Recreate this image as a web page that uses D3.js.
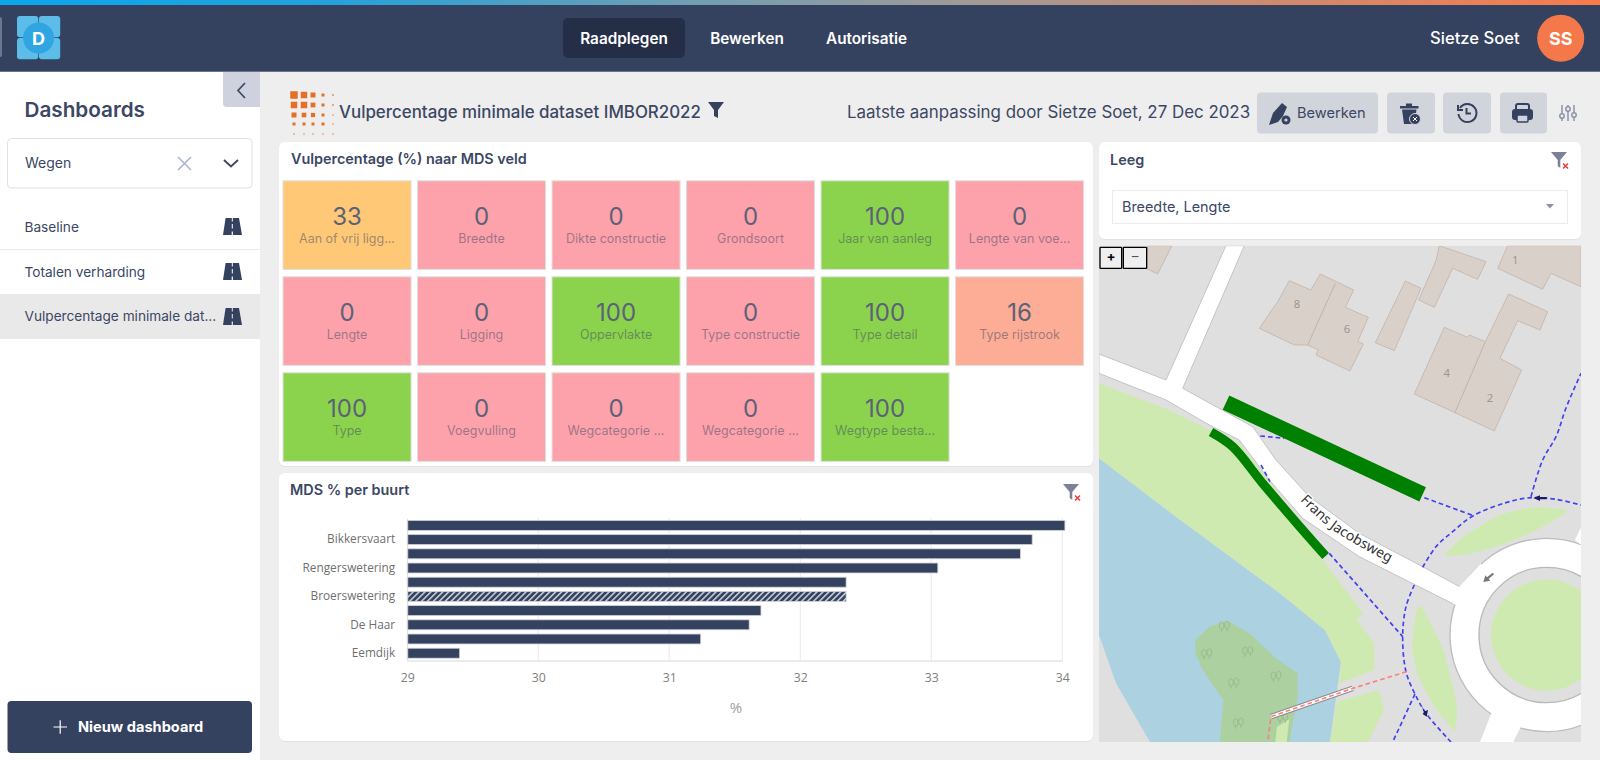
<!DOCTYPE html>
<html lang="nl"><head><meta charset="utf-8"><title>Vulpercentage minimale dataset IMBOR2022</title>
<script src="https://cdn.jsdelivr.net/npm/d3@7/dist/d3.min.js"></script>
<style>html,body{margin:0;padding:0;background:#eee;overflow:hidden}svg{display:block}svg{font-family:Inter,"Noto Sans",sans-serif}</style>
</head><body><svg id="c" width="1600" height="760"></svg>
<script>
// ---------- data ----------
const fieldNames = ["Aan of vrij ligg...","Breedte","Dikte constructie","Grondsoort","Jaar van aanleg","Lengte van voe...","Lengte","Ligging","Oppervlakte","Type constructie","Type detail","Type rijstrook","Type","Voegvulling","Wegcategorie ...","Wegcategorie ...","Wegtype besta..."];
const fieldValues = [33,0,0,0,100,0,0,0,100,0,100,16,100,0,0,0,100];
const buurtLabels = [null,"Bikkersvaart",null,"Rengerswetering",null,"Broerswetering",null,"De Haar",null,"Eemdijk"];
const buurtValues = [34.02,33.77,33.68,33.05,32.35,32.35,31.70,31.61,31.24,29.40];
const hatchedBuurt = "Broerswetering";
const xTicks = [29,30,31,32,33,34];
const dashboards = ["Baseline","Totalen verharding","Vulpercentage minimale dat..."];
const navItems = ["Raadplegen","Bewerken","Autorisatie"];

const NAVY="#35425f", INK="#3b4764";
const svg=d3.select("#c");
const defs=svg.append("defs");
const grad=defs.append("linearGradient").attr("id","topg");
[[0,"#0aa6ec"],[.2,"#22a2dc"],[.42,"#6d9fb4"],[.6,"#a09a98"],[.8,"#cf8a6e"],[1,"#f97b4b"]].forEach(s=>grad.append("stop").attr("offset",s[0]).attr("stop-color",s[1]));
const pat=defs.append("pattern").attr("id","hatch").attr("width",4.2).attr("height",4.2).attr("patternUnits","userSpaceOnUse").attr("patternTransform","rotate(45)");
pat.append("rect").attr("width",4.2).attr("height",4.2).attr("fill",NAVY);
pat.append("rect").attr("width",1.6).attr("height",4.2).attr("fill","#c3c8d4");
defs.append("clipPath").attr("id","mapclip").append("rect").attr("x",69).attr("y",47).attr("width",1446).attr("height",1489);

function rect(p,x,y,w,h,fill,r,stroke){const e=p.append("rect").attr("x",x).attr("y",y).attr("width",w).attr("height",h).attr("fill",fill).attr("rx",r||0);if(stroke)e.attr("stroke",stroke);return e;}
function text(p,x,y,t,size,fill,weight,anchor){return p.append("text").attr("x",x).attr("y",y).text(t).attr("font-size",size).attr("fill",fill).attr("font-weight",weight||400).attr("text-anchor",anchor||"start");}

// ---------- page frame ----------
rect(svg,0,0,1600,760,"#eeeeee");
rect(svg,0,5,1600,66,NAVY);
rect(svg,0,71,1600,1,"#6a7488");
rect(svg,0,0,1600,5,"url(#topg)");
rect(svg,0,72,260,688,"#ffffff");
rect(svg,-4,17,6,40,"#6c768c",2);
// logo
const lg=svg.append("g");
[[17,16],[38.9,16],[17,38],[38.9,38]].forEach(d=>rect(lg,d[0],d[1],21.3,21.2,"#5dbde9",3));
lg.append("circle").attr("cx",38.6).attr("cy",38).attr("r",15.5).attr("fill","#2fa5e1");
text(lg,38.6,44.5,"D",18,"#fff",700,"middle");
// nav
rect(svg,563,18,122,40,"#242e47",5);
const navX=[624,747,866.5];
navItems.forEach((t,i)=>text(svg,navX[i],44,t,15.3,"#fff",600,"middle"));
text(svg,1430,44,"Sietze Soet",16.6,"#fff",500);
svg.append("circle").attr("cx",1560.7).attr("cy",38.3).attr("r",23.5).attr("fill","#f4784a");
text(svg,1560.7,44.8,"SS",18,"#fff",700,"middle");

// ---------- sidebar ----------
svg.append("path").attr("d","M223,72H260V107H227a4,4 0 0 1-4-4Z").attr("fill","#cfd2de");
svg.append("path").attr("d","M245,83l-7,7.5l7,7.5").attr("fill","none").attr("stroke",INK).attr("stroke-width",1.7);
text(svg,24.5,117,"Dashboards",20.7,INK,600);
rect(svg,7.5,138.5,244.5,49.5,"#fff",4,"#dfe1ea");
text(svg,25,168,"Wegen",14,INK,400);
svg.append("path").attr("d","M178,157l13,13M191,157l-13,13").attr("stroke","#a9b5d2").attr("stroke-width",1.6);
svg.append("path").attr("d","M224,160l7,6.5l7,-6.5").attr("fill","none").attr("stroke",INK).attr("stroke-width",1.9);
rect(svg,0,249,260,.9,"#e9e9e9");
rect(svg,0,294,260,45,"#e9e9e9");
const rowBase=[232,277,321], iconTop=[218,263,308];
dashboards.forEach((t,i)=>{
  text(svg,24.5,rowBase[i],t,13.65,INK,400);
  svg.append("path").attr("transform",`translate(223,${iconTop[i]})`).attr("fill",NAVY)
    .attr("d","M2.6,0H8.8V3.5H9.8V0H16L19,17H9.9V13.5H8.7V17H0ZM8.8,6V10.5H9.8V6Z");
});
rect(svg,7.5,701,244.5,52,NAVY,4);
svg.append("path").attr("d","M53.5,727H67M60.2,720.2V733.8").attr("stroke","#fff").attr("stroke-width",1.2);
text(svg,78,732,"Nieuw dashboard",14.6,"#fff",700);

// ---------- header row ----------
const dotX=[294,304,313,323,333],dotY=[95,105,115,124,134];
const dotS=[[7.5,6.5,5,3,1.5],[6.5,6.5,4.8,3,1.5],[5,4.6,4.2,3,1.2],[3,3,3,3,1.2],[1.2,1.2,1.2,1.2,1.2]];
dotY.forEach((y,r)=>dotX.forEach((x,c)=>{const s=dotS[r][c];rect(svg,x-s/2,y-s/2,s,s,"#e56f27");}));
text(svg,339,118,"Vulpercentage minimale dataset IMBOR2022",16.9,INK,500);
svg.append("path").attr("d","M708,102H724L718,110V118L714,116V110Z").attr("fill",NAVY);
text(svg,847,118,"Laatste aanpassing door Sietze Soet, 27 Dec 2023",16.9,INK,400);
rect(svg,1257,92.5,121,41,"#d2d4dc",4);
rect(svg,1387,92.5,48,41,"#d2d4dc",4);
rect(svg,1443,92.5,48,41,"#d2d4dc",4);
rect(svg,1500,92.5,47,41,"#d2d4dc",4);
text(svg,1297,118,"Bewerken",14.6,INK,400);
// pen icon
svg.append("path").attr("d","M1269,125L1273,113L1282,103L1287,107L1283,116L1278,122Z").attr("fill",NAVY);
svg.append("circle").attr("cx",1286).attr("cy",120).attr("r",4.5).attr("fill",NAVY);
svg.append("circle").attr("cx",1286).attr("cy",120).attr("r",1.6).attr("fill","#d2d4dc");
// trash
svg.append("path").attr("d","M1406,106V103.5H1412V106H1418.5V108.5H1400V106ZM1402,109.5H1416.5L1414.5,124H1404Z").attr("fill",NAVY);
svg.append("circle").attr("cx",1415).attr("cy",119).attr("r",5.5).attr("fill",NAVY).attr("stroke","#d2d4dc");
svg.append("path").attr("d","M1413,117l4,4M1417,117l-4,4").attr("stroke","#fff").attr("stroke-width",1);
// history
svg.append("path").attr("d","M1460,108A9,9 0 1 1 1458.5,114M1458,105V110H1463M1466.5,108V113.5H1471").attr("fill","none").attr("stroke",NAVY).attr("stroke-width",2);
// print
rect(svg,1516,104,13,7,"none",2,NAVY).attr("stroke-width",2);
rect(svg,1512,109,21,11,NAVY,3);
rect(svg,1517,115,11,7,"#d2d4dc",1,NAVY).attr("stroke-width",1.5);
// sliders
const sl=svg.append("g").attr("stroke","#8d93a6").attr("fill","#eee").attr("stroke-width",1.5);
[[1562,116],[1568,109],[1574,115]].forEach(d=>{sl.append("path").attr("d",`M${d[0]},105V121`);sl.append("circle").attr("cx",d[0]).attr("cy",d[1]).attr("r",2.2);});

// ---------- cards ----------
function card(x,y,w,h){rect(svg,x,y+1,w,h,"#e2e2e2",6);rect(svg,x,y,w,h,"#fff",6);}
card(279,142,814,324);
card(1099,142,482,97);
card(279,473,814,268);
text(svg,291,164,"Vulpercentage (%) naar MDS veld",14.4,INK,600);
text(svg,1110,165,"Leeg",14.4,INK,600);
text(svg,290,495,"MDS % per buurt",14.4,INK,600);
function clearFilter(x,y){
  svg.append("path").attr("d",`M${x-8},${y}H${x+8}L${x+1.3},${y+8}V${y+16}L${x-1.3},${y+14}V${y+8}Z`).attr("fill","#7b8196");
  svg.append("path").attr("d",`M${x+4},${y+11.5}l5,5M${x+9},${y+11.5}l-5,5`).attr("stroke","#ee3b3b").attr("stroke-width",1.5);
}
clearFilter(1559,152);
clearFilter(1071,484);
rect(svg,1112.5,190.5,455,33,"#fff",0,"#ececec");
text(svg,1122,212,"Breedte, Lengte",14.4,INK,400);
svg.append("path").attr("d","M1546,204H1554L1550,208.5Z").attr("fill","#8d93a6");

// ---------- tiles ----------
const tileCol=d3.scaleBand().domain(d3.range(6)).range([283,1083.6]).paddingInner(.048);
const tileRow=d3.scaleBand().domain(d3.range(3)).range([180.8,461.4]).paddingInner(.077);
const tileColor=d3.scaleThreshold().domain([10,25,60]).range(["#fda2aa","#fdad95","#fec876","#8bd34c"]);
const tiles=svg.append("g").selectAll("g").data(fieldValues).join("g")
  .attr("transform",(d,i)=>`translate(${tileCol(i%6)},${tileRow(Math.floor(i/6))})`);
tiles.append("rect").attr("width",tileCol.bandwidth()).attr("height",tileRow.bandwidth()).attr("fill",d=>tileColor(d)).attr("stroke","#dfdfdf").attr("stroke-width",1);
tiles.append("text").attr("x",tileCol.bandwidth()/2).attr("y",44).attr("text-anchor","middle").attr("font-size",24).attr("fill","#5b6178").text(d=>d);
tiles.append("text").attr("x",tileCol.bandwidth()/2).attr("y",62).attr("text-anchor","middle").attr("font-size",12.5).attr("fill",INK).attr("fill-opacity",.5).text((d,i)=>fieldNames[i]);

// ---------- bars ----------
const x=d3.scaleLinear().domain([29,34]).range([407.2,1062.3]);
const y=d3.scaleBand().domain(d3.range(buurtValues.length)).range([518.3,660.3]).paddingInner(.3).paddingOuter(.15);
const chart=svg.append("g");
chart.append("g").selectAll("line").data(xTicks.slice(1)).join("line")
  .attr("x1",d=>x(d)).attr("x2",d=>x(d)).attr("y1",518).attr("y2",660.5).attr("stroke","#e9e9e9");
chart.selectAll("rect.bar").data(buurtValues).join("rect").attr("class","bar")
  .attr("x",x(29)).attr("y",(d,i)=>y(i)).attr("width",d=>x(d)-x(29)).attr("height",y.bandwidth())
  .attr("fill",(d,i)=>buurtLabels[i]===hatchedBuurt?"url(#hatch)":NAVY).attr("stroke","#cdd1da").attr("stroke-width",.8);
const ax=chart.append("g").attr("transform","translate(0,660.5)").call(d3.axisBottom(x).tickValues(xTicks).tickSize(0).tickPadding(13).tickFormat(d3.format("d")));
ax.select(".domain").attr("stroke","#d8d8d8");
ax.attr("font-family","Open Sans").attr("font-size",12.3);
ax.selectAll("text").attr("fill","#808080");
const ay=chart.append("g").attr("transform",`translate(${x(29)},0)`).call(d3.axisLeft(y).tickSize(0).tickPadding(12).tickFormat(i=>buurtLabels[i]||""));
ay.select(".domain").attr("stroke","#d8d8d8");
ay.attr("font-family","Open Sans").attr("font-size",11.8);
ay.selectAll("text").attr("fill","#6f6f6f");
text(chart,736,713,"%",15,"#a0a0a0",400,"middle").attr("font-family","Open Sans");

// ---------- map (geometry in crop units, 3 per page pixel) ----------
const grassPoly=[[69,460],[280,540],[400,600],[490,640],[600,780],[740,990],[862,1150],[842,1170],[895,1240],[895,1320],[790,1360],[795,1295],[747,1200],[612,1090],[300,860],[69,685]];
const grass2=[[782,1415],[909,1380],[924,1440],[877,1536],[762,1536]];
const lake=[[69,685],[300,860],[612,1090],[747,1200],[795,1295],[762,1536],[222,1536],[120,1360],[69,1215]];
const forest=[[358,1230],[400,1190],[455,1172],[520,1210],[600,1285],[665,1330],[665,1400],[640,1536],[432,1536],[442,1410],[380,1320],[358,1270]];
const grass3=[[603,1490],[640,1468],[632,1536],[598,1536]];
const road=[[69,372],[270,450],[450,47],[505,47],[320,475],[530,590],[600,690],[700,800],[850,910],[1040,1010],[1160,1075],[1138,1125],[850,980],[680,865],[580,750],[490,630],[400,585],[270,510],[69,430]];
const roadPatches=[[[1150,1070],[1215,1000],[1230,1140],[1130,1122]],[[1250,1440],[1340,1480],[1312,1536],[1212,1536]],[[1497,930],[1516,890],[1516,945]]];
const islands=[[[1107,975],[1162,920],[1272,855],[1372,832],[1472,840],[1452,860],[1362,910],[1262,950],[1162,975]],[[1022,1135],[1042,1140],[1102,1260],[1142,1420],[1137,1500],[1082,1440],[1027,1340],[1009,1250]]];
const buildings=[
 [[640,152],[705,180],[733,132],[833,180],[808,232],[877,262],[845,335],[862,342],[822,423],[720,375],[727,360],[695,345],[655,345],[550,295],[605,215]],
 [[215,47],[288,47],[245,132],[210,115]],
 [[988,153],[1035,175],[955,362],[898,338]],
 [[1090,47],[1230,95],[1205,148],[1130,115],[1075,232],[1028,210],[1080,92]],
 [[1295,47],[1265,115],[1400,178],[1425,130],[1515,170],[1515,47]],
 [[1105,292],[1175,322],[1180,315],[1228,335],[1298,192],[1415,245],[1392,300],[1325,272],[1272,385],[1337,420],[1255,603],[1137,548],[1015,492]]];
const walls=[[[778,160],[695,345]],[[1228,335],[1137,548]]];
const houseNos=[["8",663,223],["6",813,298],["1",1318,90],["4",1112,428],["2",1242,503]];
const trees=[[445,1190],[392,1272],[515,1265],[600,1340],[473,1360],[487,1480],[620,1465]];
const blueTrails=[[[553,618],[625,625]],[[555,705],[582,755]],[[1045,803],[1192,857]],[[1040,1012],[1080,950],[1130,905],[1192,857],[1290,818],[1365,803],[1440,808],[1515,825]],[[1365,800],[1400,690],[1440,620],[1470,534],[1515,430]],[[760,970],[980,1220]],[[1015,1065],[990,1130],[980,1220],[990,1325],[1017,1392],[1050,1450],[1125,1536]],[[1017,1392],[950,1536]]];
const bridge=[[830,1375],[585,1460]], pinkTrail=[[992,1325],[830,1375],[585,1460],[575,1536]];
const thickRoad=[[450,518],[1040,793]], thinRoad=[[405,606],[470,650],[560,760],[680,900],[749,978]];
const nameLine=[[672,812],[770,900],[960,1008]];
const roundabout={x:1412,y:1215,outer:290,inner:203,green:167};
const line=d3.line(), smooth=d3.line().curve(d3.curveCatmullRom);

const outer=svg.append("g").attr("transform","translate(1076,230) scale(.33333)");
const m=outer.append("g").attr("clip-path","url(#mapclip)");
const poly=(pts,fill,stroke,sw)=>m.append("path").attr("d",line(pts)+"Z").attr("fill",fill).attr("stroke",stroke||"none").attr("stroke-width",sw||0);
rect(m,69,47,1446,1489,"#e0dfdf");
poly(lake,"#acd1e0");poly(grassPoly,"#cfeab0");poly(grass2,"#cfeab0");poly(forest,"#add0a0");poly(grass3,"#cfeab0");
trees.forEach(t=>{const g=m.append("g").attr("transform",`translate(${t[0]},${t[1]})`).attr("fill","none").attr("stroke","#93b98a").attr("stroke-width",2.5);
  g.append("ellipse").attr("cx",-8).attr("cy",-3).attr("rx",7).attr("ry",11);g.append("ellipse").attr("cx",8).attr("cy",-5).attr("rx",7).attr("ry",11);
  g.append("path").attr("d","M-8,8V16M8,6V14");});
islands.forEach(p=>m.append("path").attr("d",d3.line().curve(d3.curveCardinalClosed.tension(.5))(p)).attr("fill","#cfeab0"));
poly(road,"#fff","#c4c4c4",3);
m.append("circle").attr("cx",roundabout.x).attr("cy",roundabout.y).attr("r",roundabout.outer).attr("fill","#fff").attr("stroke","#bdbdbd").attr("stroke-width",4);
roadPatches.forEach(p=>poly(p,"#fff"));
m.append("circle").attr("cx",roundabout.x).attr("cy",roundabout.y).attr("r",roundabout.inner).attr("fill","#e0dfdf").attr("stroke","#b8b8b8").attr("stroke-width",4);
m.append("circle").attr("cx",roundabout.x).attr("cy",roundabout.y).attr("r",roundabout.green).attr("fill","#cfeab0");
buildings.forEach(b=>poly(b,"#d9d0c9","#c6bbb2",3));
walls.forEach(w=>m.append("path").attr("d",line(w)).attr("stroke","#c0b4aa").attr("stroke-width",3));
houseNos.forEach(h=>text(m,h[1],h[2]+12,h[0],34,"#9b9792",400,"middle").attr("font-family","Noto Sans"));
blueTrails.forEach(t=>m.append("path").attr("d",smooth(t)).attr("fill","none").attr("stroke","#4141f2").attr("stroke-width",5).attr("stroke-dasharray","14,9"));
m.append("path").attr("d",line(bridge)).attr("stroke","#8c8c8c").attr("stroke-width",17);
m.append("path").attr("d",line(bridge)).attr("stroke","#fff").attr("stroke-width",10);
m.append("path").attr("d",line(pinkTrail)).attr("fill","none").attr("stroke","#fb8080").attr("stroke-width",5).attr("stroke-dasharray","14,9");
m.append("path").attr("d","M1372,804L1392,796V801H1412V808H1392V813Z").attr("fill","#1b1b66");
m.append("path").attr("d","M1036,1425L1046,1444L1056,1440L1052,1460L1040,1452L1044,1446Z").attr("fill","#1b1b66");
m.append("path").attr("d","M1222,1056L1228,1036L1233,1042L1250,1028L1254,1033L1238,1047L1243,1052Z").attr("fill","#777");
m.append("path").attr("d",line(thickRoad)).attr("stroke","#008000").attr("stroke-width",47);
m.append("path").attr("d",smooth(thinRoad)).attr("fill","none").attr("stroke","#008000").attr("stroke-width",27);
defs.append("path").attr("id","namePath").attr("d",smooth(nameLine));
const nm=m.append("text").attr("font-family","Noto Sans").attr("font-size",42).attr("fill","#333").attr("stroke","#fff").attr("stroke-width",7).attr("paint-order","stroke");
nm.append("textPath").attr("href","#namePath").text("Frans Jacobsweg");
rect(m,72,52,65,63,"#efefef",2,"#000").attr("stroke-width",4);
rect(m,142,52,70,63,"#efefef",2,"#000").attr("stroke-width",4);
text(m,105,92,"+",40,"#000",700,"middle");
text(m,177,94,"–",40,"#555",400,"middle");
</script></body></html>
